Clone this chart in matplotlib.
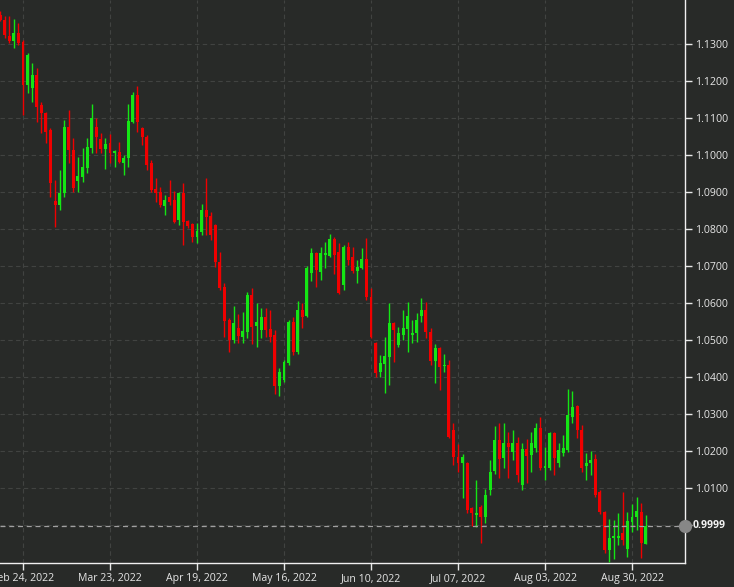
import numpy as np
import pandas as pd
import matplotlib
matplotlib.use("Agg")
import matplotlib.pyplot as plt

plt.rcParams['font.family'] = ['Open Sans', 'DejaVu Sans']

# EUR/USD daily candles, 17 Feb 2022 - 2 Sep 2022 (weekdays)
dates = pd.bdate_range("2022-02-17", "2022-09-02")

opens = [
    1.1378, 1.1365, 1.1322, 1.1308, 1.1330, 1.1305, 1.1189, 1.1181, 1.1216, 1.1135,
    1.1114, 1.1068, 1.0876, 1.0865, 1.0897, 1.1076, 1.1014, 1.0930, 1.0941, 1.0965,
    1.1019, 1.1076, 1.1043, 1.1016, 1.1032, 1.1005, 1.1008, 1.0978, 1.0992, 1.1089,
    1.1162, 1.1073, 1.1049, 1.0978, 1.0908, 1.0900, 1.0862, 1.0887, 1.0878, 1.0824,
    1.0897, 1.0822, 1.0814, 1.0778, 1.0792, 1.0851, 1.0835, 1.0811, 1.0711, 1.0643,
    1.0554, 1.0500, 1.0532, 1.0508, 1.0522, 1.0622, 1.0538, 1.0527, 1.0562, 1.0530,
    1.0514, 1.0376, 1.0392, 1.0438, 1.0549, 1.0468, 1.0581, 1.0565, 1.0681, 1.0735,
    1.0684, 1.0730, 1.0727, 1.0773, 1.0738, 1.0649, 1.0751, 1.0724, 1.0687, 1.0695,
    1.0719, 1.0616, 1.0492, 1.0414, 1.0435, 1.0454, 1.0546, 1.0487, 1.0514, 1.0530,
    1.0514, 1.0519, 1.0565, 1.0581, 1.0522, 1.0443, 1.0478, 1.0430, 1.0432, 1.0257,
    1.0184, 1.0168, 1.0168, 1.0046, 1.0027, 1.0049, 1.0022, 1.0095, 1.0146, 1.0230,
    1.0181, 1.0222, 1.0197, 1.0222, 1.0108, 1.0206, 1.0189, 1.0208, 1.0262, 1.0154,
    1.0154, 1.0249, 1.0168, 1.0195, 1.0203, 1.0292, 1.0322, 1.0257, 1.0160, 1.0168,
    1.0178, 1.0089, 1.0035, 0.9932, 0.9965, 0.9965, 0.9978, 0.9935, 1.0008, 1.0022,
    1.0035, 0.9949,
]
highs = [
    1.1387, 1.1376, 1.1376, 1.1368, 1.1357, 1.1311, 1.1276, 1.1249, 1.1235, 1.1143,
    1.1116, 1.1073, 1.0932, 1.0959, 1.1095, 1.1122, 1.1046, 1.0995, 1.1019, 1.1046,
    1.1138, 1.1100, 1.1060, 1.1046, 1.1057, 1.1014, 1.1035, 1.1000, 1.1138, 1.1170,
    1.1187, 1.1076, 1.1054, 1.0987, 1.0938, 1.0914, 1.0892, 1.0932, 1.0903, 1.0900,
    1.0924, 1.0824, 1.0816, 1.0816, 1.0868, 1.0938, 1.0846, 1.0814, 1.0738, 1.0654,
    1.0559, 1.0592, 1.0570, 1.0576, 1.0630, 1.0641, 1.0600, 1.0587, 1.0587, 1.0581,
    1.0527, 1.0424, 1.0446, 1.0554, 1.0562, 1.0605, 1.0600, 1.0700, 1.0749, 1.0738,
    1.0751, 1.0765, 1.0787, 1.0778, 1.0762, 1.0757, 1.0765, 1.0751, 1.0716, 1.0749,
    1.0776, 1.0641, 1.0495, 1.0459, 1.0508, 1.0600, 1.0549, 1.0535, 1.0581, 1.0603,
    1.0554, 1.0573, 1.0613, 1.0603, 1.0532, 1.0489, 1.0481, 1.0462, 1.0446, 1.0276,
    1.0219, 1.0192, 1.0170, 1.0049, 1.0122, 1.0054, 1.0097, 1.0176, 1.0268, 1.0276,
    1.0276, 1.0251, 1.0257, 1.0238, 1.0222, 1.0233, 1.0251, 1.0276, 1.0292, 1.0211,
    1.0251, 1.0251, 1.0222, 1.0243, 1.0368, 1.0362, 1.0324, 1.0270, 1.0195, 1.0200,
    1.0192, 1.0095, 1.0038, 1.0016, 1.0014, 1.0033, 1.0089, 1.0035, 1.0057, 1.0076,
    1.0059, 1.0027,
]
lows = [
    1.1360, 1.1316, 1.1303, 1.1289, 1.1297, 1.1108, 1.1168, 1.1143, 1.1089, 1.1060,
    1.1032, 1.0887, 1.0805, 1.0851, 1.0887, 1.0978, 1.0900, 1.0900, 1.0927, 1.0951,
    1.1005, 1.1005, 1.1005, 1.0962, 1.0978, 1.0968, 1.0978, 1.0946, 1.0968, 1.1087,
    1.1062, 1.1027, 1.0959, 1.0900, 1.0873, 1.0860, 1.0838, 1.0865, 1.0816, 1.0811,
    1.0757, 1.0803, 1.0765, 1.0762, 1.0784, 1.0784, 1.0770, 1.0697, 1.0635, 1.0508,
    1.0468, 1.0492, 1.0492, 1.0492, 1.0505, 1.0489, 1.0481, 1.0505, 1.0508, 1.0495,
    1.0354, 1.0349, 1.0387, 1.0432, 1.0459, 1.0462, 1.0532, 1.0562, 1.0660, 1.0643,
    1.0662, 1.0695, 1.0724, 1.0678, 1.0624, 1.0635, 1.0703, 1.0681, 1.0654, 1.0692,
    1.0608, 1.0505, 1.0400, 1.0400, 1.0357, 1.0378, 1.0441, 1.0481, 1.0500, 1.0468,
    1.0492, 1.0495, 1.0549, 1.0505, 1.0432, 1.0384, 1.0365, 1.0414, 1.0235, 1.0162,
    1.0143, 1.0073, 1.0033, 0.9997, 0.9995, 0.9951, 1.0005, 1.0081, 1.0138, 1.0127,
    1.0154, 1.0127, 1.0176, 1.0116, 1.0095, 1.0114, 1.0143, 1.0197, 1.0149, 1.0122,
    1.0149, 1.0135, 1.0157, 1.0187, 1.0197, 1.0276, 1.0235, 1.0143, 1.0122, 1.0135,
    1.0076, 1.0030, 0.9924, 0.9900, 0.9908, 0.9946, 0.9946, 0.9914, 0.9981, 0.9987,
    0.9911, 0.9949,
]
closes = [
    1.1365, 1.1324, 1.1308, 1.1330, 1.1303, 1.1189, 1.1270, 1.1216, 1.1130, 1.1114,
    1.1062, 1.0924, 1.0865, 1.0897, 1.1076, 1.1014, 1.0911, 1.0943, 1.0968, 1.1022,
    1.1100, 1.1049, 1.1016, 1.1030, 1.1005, 1.1011, 1.0981, 1.0992, 1.1092, 1.1162,
    1.1089, 1.1049, 1.0973, 1.0905, 1.0897, 1.0865, 1.0878, 1.0873, 1.0819, 1.0897,
    1.0819, 1.0808, 1.0778, 1.0795, 1.0851, 1.0832, 1.0784, 1.0711, 1.0641, 1.0551,
    1.0500, 1.0546, 1.0511, 1.0524, 1.0622, 1.0535, 1.0549, 1.0562, 1.0527, 1.0508,
    1.0376, 1.0414, 1.0441, 1.0549, 1.0468, 1.0581, 1.0562, 1.0695, 1.0735, 1.0689,
    1.0735, 1.0735, 1.0773, 1.0730, 1.0627, 1.0751, 1.0716, 1.0687, 1.0697, 1.0719,
    1.0616, 1.0508, 1.0411, 1.0438, 1.0457, 1.0546, 1.0527, 1.0519, 1.0532, 1.0565,
    1.0519, 1.0554, 1.0581, 1.0522, 1.0443, 1.0478, 1.0427, 1.0432, 1.0238, 1.0184,
    1.0168, 1.0184, 1.0041, 1.0033, 1.0033, 1.0022, 1.0081, 1.0143, 1.0230, 1.0178,
    1.0222, 1.0211, 1.0222, 1.0135, 1.0206, 1.0187, 1.0222, 1.0262, 1.0154, 1.0160,
    1.0249, 1.0181, 1.0203, 1.0208, 1.0297, 1.0319, 1.0257, 1.0154, 1.0168, 1.0176,
    1.0081, 1.0035, 0.9932, 0.9965, 0.9970, 0.9970, 0.9959, 1.0011, 1.0022, 1.0038,
    0.9951, 0.9999,
]

tick_labels = ["Feb 24, 2022", "Mar 23, 2022", "Apr 19, 2022", "May 16, 2022",
               "Jun 10, 2022", "Jul 07, 2022", "Aug 03, 2022", "Aug 30, 2022"]
last_price = 0.9999

bg = "#282a28"
up_col = "#14e614"
down_col = "#f00000"

o = np.array(opens)
h = np.array(highs)
l = np.array(lows)
c = np.array(closes)
x = np.arange(len(dates))
colors = np.where(c >= o, up_col, down_col)

fig = plt.figure(figsize=(7.34, 5.87), dpi=100, facecolor=bg)
ax = fig.add_axes([0.0, 24 / 587, 685 / 734, 563 / 587], facecolor=bg)

# wicks and bodies
ax.vlines(x, l, h, colors=colors, linewidth=1.0, zorder=3)
body_bottom = np.minimum(o, c)
body_height = np.maximum(np.abs(c - o), 0.00025)
ax.bar(x, body_height, bottom=body_bottom, width=0.64, color=colors,
       linewidth=0, zorder=4)

# current price line + marker on the axis
ax.axhline(last_price, color="#a0a0a0", linewidth=0.9, linestyle=(0, (4, 3)), zorder=5)
ax.plot([1.0], [last_price], marker="o", markersize=8.5, color="#878787",
        transform=ax.get_yaxis_transform(), clip_on=False, zorder=6)

ax.set_xlim(-0.02, 149.57)
ax.set_ylim(0.9898, 1.1418)

# x ticks
tick_pos = [list(dates.strftime("%b %d, %Y")).index(t) for t in tick_labels]
ax.set_xticks(tick_pos)
ax.set_xticklabels(tick_labels)

# y ticks on the right
yt = np.round(np.arange(1.00, 1.1301, 0.01), 2)
ax.yaxis.tick_right()
ax.set_yticks(yt)
ax.set_yticklabels(["" if abs(v - 1.0) < 1e-9 else f"{v:.4f}" for v in yt])
ax.annotate(f"{last_price:.4f}", xy=(1.0, last_price), xycoords=ax.get_yaxis_transform(),
            xytext=(5.6, 0), textcoords="offset points", ha="left", va="center",
            color="#f2f2f2", fontsize=7.6, fontweight="bold", annotation_clip=False,
            zorder=7)

ax.tick_params(axis="both", colors="#e8e8e8", labelcolor="#e6e6e6",
               labelsize=7.6, length=5, width=1, pad=2)

ax.grid(True, color="#414341", linewidth=0.8, linestyle=(0, (4, 3)))
ax.set_axisbelow(True)

for side in ["top", "left"]:
    ax.spines[side].set_visible(False)
for side in ["right", "bottom"]:
    ax.spines[side].set_color("#f0f0f0")
    ax.spines[side].set_linewidth(1.0)

fig.savefig("out.png", dpi=100, facecolor=bg)
